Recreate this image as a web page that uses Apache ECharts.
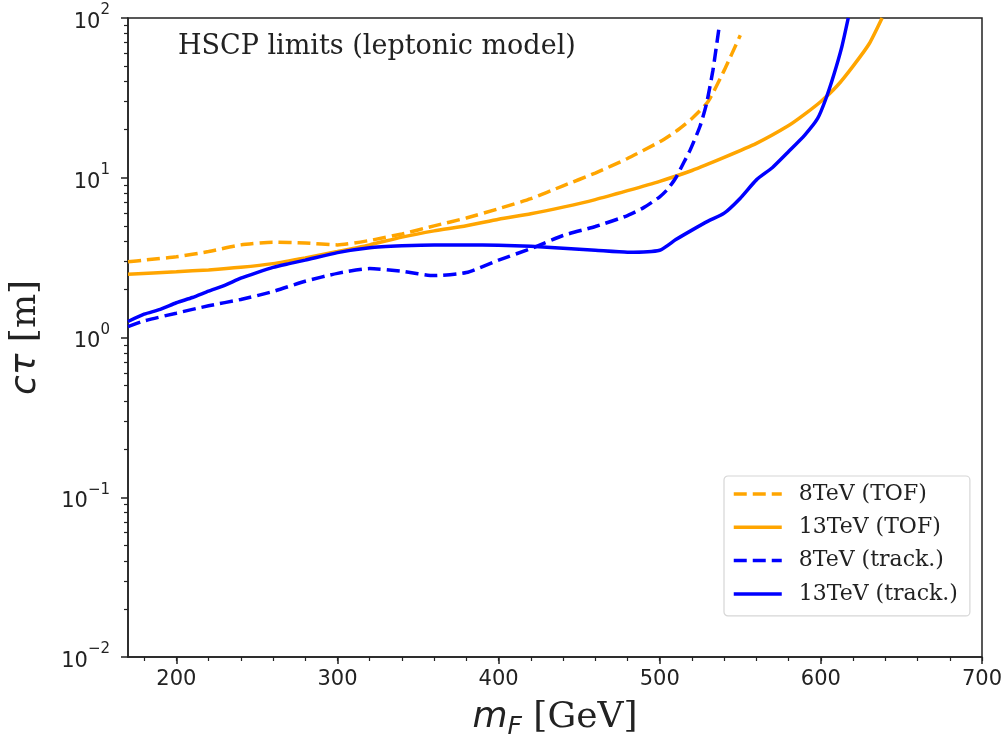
<!DOCTYPE html>
<html>
<head>
<meta charset="utf-8">
<script src="https://cdn.jsdelivr.net/npm/echarts@6/dist/echarts.min.js"></script>
<style>
  html, body { margin: 0; padding: 0; background: #fff; }
  #main { width: 1004px; height: 737px; }
</style>
</head>
<body>
<div id="main"></div>
<script>
// HSCP limits, leptonic model: c*tau vs m_F
var seriesNames = ['8TeV (TOF)', '13TeV (TOF)', '8TeV (track.)', '13TeV (track.)'];

var tof8 = [[170,2.98],[180,3.05],[200,3.2],[220,3.45],[240,3.8],[260,3.95],[280,3.9],[300,3.8],[320,4.05],
  [340,4.45],[360,5.0],[380,5.6],[400,6.4],[420,7.4],[440,8.9],[460,10.7],[480,13.2],[500,16.8],[510,19.5],
  [520,23.5],[530,30],[540,47],[550,78]];

var tof13 = [[170,2.49],[200,2.58],[220,2.65],[240,2.75],[260,2.9],[280,3.15],[300,3.45],[320,3.8],[340,4.25],
  [360,4.65],[380,5.0],[400,5.5],[420,5.95],[440,6.55],[460,7.3],[480,8.3],[500,9.5],[520,11.1],[540,13.4],
  [560,16.4],[580,21.2],[590,25],[600,30],[610,37.5],[620,50],[630,69],[638,100]];

var track8 = [[170,1.17],[180,1.27],[200,1.42],[220,1.58],[240,1.73],[260,1.94],[280,2.25],[300,2.52],[320,2.7],
  [340,2.6],[360,2.44],[380,2.55],[400,3.05],[420,3.6],[440,4.35],[460,4.95],[480,5.8],[490,6.5],[500,7.6],
  [505,8.5],[510,10],[515,12.5],[519,15],[525,21],[529,29],[533,47],[537,90]];

var track13 = [[170,1.26],[180,1.4],[190,1.5],[200,1.65],[210,1.78],[220,1.95],[230,2.12],[240,2.35],[250,2.55],
  [260,2.75],[270,2.9],[280,3.05],[300,3.4],[320,3.65],[340,3.75],[360,3.8],[380,3.8],[400,3.78],[420,3.72],
  [440,3.62],[460,3.52],[480,3.42],[500,3.52],[510,4.1],[520,4.7],[530,5.35],[540,6.0],[550,7.45],[560,9.7],
  [570,11.6],[580,14.6],[590,18.5],[598,23.5],[603,31],[608,44],[613,66],[617,100]];

var xMajorTicks = [200, 300, 400, 500, 600, 700];
var xMinorTicks = [180, 200, 220, 240, 260, 280, 300, 320, 340, 360, 380, 400, 420, 440, 460, 480, 500,
  520, 540, 560, 580, 600, 620, 640, 660, 680, 700];
var yMajorTicks = [0.01, 0.1, 1, 10, 100];
var yMinorTicks = [0.02, 0.03, 0.04, 0.05, 0.06, 0.07, 0.08, 0.09,
  0.2, 0.3, 0.4, 0.5, 0.6, 0.7, 0.8, 0.9,
  2, 3, 4, 5, 6, 7, 8, 9,
  20, 30, 40, 50, 60, 70, 80, 90];

var ORANGE = '#ffa500', BLUE = '#0000ff';
var DASH = [13, 6];

var chart = echarts.init(document.getElementById('main'));

function lineSeries(name, data, color, dashed) {
  return {
    name: name,
    type: 'line',
    data: data,
    symbol: 'none',
    smooth: 0.2,
    clip: true,
    lineStyle: { color: color, width: 3.5, type: dashed ? DASH : 'solid' },
    itemStyle: { color: color }
  };
}

chart.setOption({
  animation: false,
  title: {
    text: 'HSCP limits (leptonic model)',
    left: 173,
    top: 28,
    textStyle: { fontFamily: 'DejaVu Serif', fontSize: 27, fontWeight: 'normal', color: '#222' }
  },
  grid: {
    left: 128, right: 22, top: 18, bottom: 80,
    outerBoundsMode: 'none',
    containLabel: false,
    show: true, borderColor: '#222', borderWidth: 1.5, backgroundColor: 'transparent'
  },
  legend: {
    orient: 'vertical',
    left: 724, top: 476,
    padding: [6, 12, 10, 8],
    itemWidth: 48, itemHeight: 14, itemGap: 9.3,
    backgroundColor: '#fff',
    borderColor: '#d6d6d6', borderWidth: 1.2, borderRadius: 4,
    data: seriesNames,
    itemStyle: { opacity: 0 },
    lineStyle: { width: 3.5 },
    textStyle: {
      fontFamily: 'DejaVu Serif', fontSize: 22, color: '#222', lineHeight: 24,
      padding: [0, 0, 0, 12]
    }
  },
  xAxis: [{
    type: 'value', min: 170, max: 700,
    name: '{it|m}{sub|F}{n|\u00a0[GeV]}',
    nameLocation: 'middle', nameGap: 39,
    nameTextStyle: {
      rich: {
        it: { fontFamily: 'DejaVu Sans', fontStyle: 'italic', fontSize: 36, color: '#222', lineHeight: 44 },
        sub: { fontFamily: 'DejaVu Sans', fontStyle: 'italic', fontSize: 25, color: '#222', verticalAlign: 'bottom', lineHeight: 44 },
        n: { fontFamily: 'DejaVu Serif', fontSize: 36, color: '#222', lineHeight: 44 }
      }
    },
    axisLine: { show: true, lineStyle: { color: '#222', width: 1.5 } },
    axisTick: { show: true, customValues: xMajorTicks, length: 7, lineStyle: { color: '#222', width: 1.5 } },
    axisLabel: { customValues: xMajorTicks, margin: 12, fontFamily: 'DejaVu Sans', fontSize: 21, color: '#222' },
    splitLine: { show: false }
  }, {
    type: 'value', min: 170, max: 700, position: 'bottom',
    axisLine: { show: false },
    axisTick: { show: true, customValues: xMinorTicks, length: 4, lineStyle: { color: '#222', width: 1.2 } },
    axisLabel: { show: false },
    splitLine: { show: false }
  }],
  yAxis: [{
    type: 'log', logBase: 10, min: 0.01, max: 100,
    name: '{it|cτ}{n|\u00a0[m]}',
    nameLocation: 'middle', nameGap: 80, nameRotate: 90,
    nameTextStyle: {
      rich: {
        it: { fontFamily: 'DejaVu Sans', fontStyle: 'italic', fontSize: 36, color: '#222', lineHeight: 44 },
        n: { fontFamily: 'DejaVu Serif', fontSize: 36, color: '#222', lineHeight: 44 }
      }
    },
    axisLine: { show: true, lineStyle: { color: '#222', width: 1.5 } },
    axisTick: { show: true, customValues: yMajorTicks, length: 7, lineStyle: { color: '#222', width: 1.5 } },
    axisLabel: {
      customValues: yMajorTicks,
      margin: 18,
      formatter: function (v) {
        var e = Math.round(Math.log10(v));
        return '{b|10}{s|' + (e < 0 ? '\u2212' + (-e) : e) + '}';
      },
      rich: {
        b: { fontFamily: 'DejaVu Sans', fontSize: 21, color: '#222', lineHeight: 30, verticalAlign: 'bottom' },
        s: { fontFamily: 'DejaVu Sans', fontSize: 15, color: '#222', lineHeight: 30, verticalAlign: 'top' }
      }
    },
    splitLine: { show: false }
  }, {
    type: 'log', logBase: 10, min: 0.01, max: 100, position: 'left',
    axisLine: { show: false },
    axisTick: { show: true, customValues: yMinorTicks, length: 4, lineStyle: { color: '#222', width: 1.2 } },
    axisLabel: { show: false },
    splitLine: { show: false }
  }],
  series: [
    lineSeries(seriesNames[0], tof8, ORANGE, true),
    lineSeries(seriesNames[1], tof13, ORANGE, false),
    lineSeries(seriesNames[2], track8, BLUE, true),
    lineSeries(seriesNames[3], track13, BLUE, false)
  ]
});
</script>
</body>
</html>
